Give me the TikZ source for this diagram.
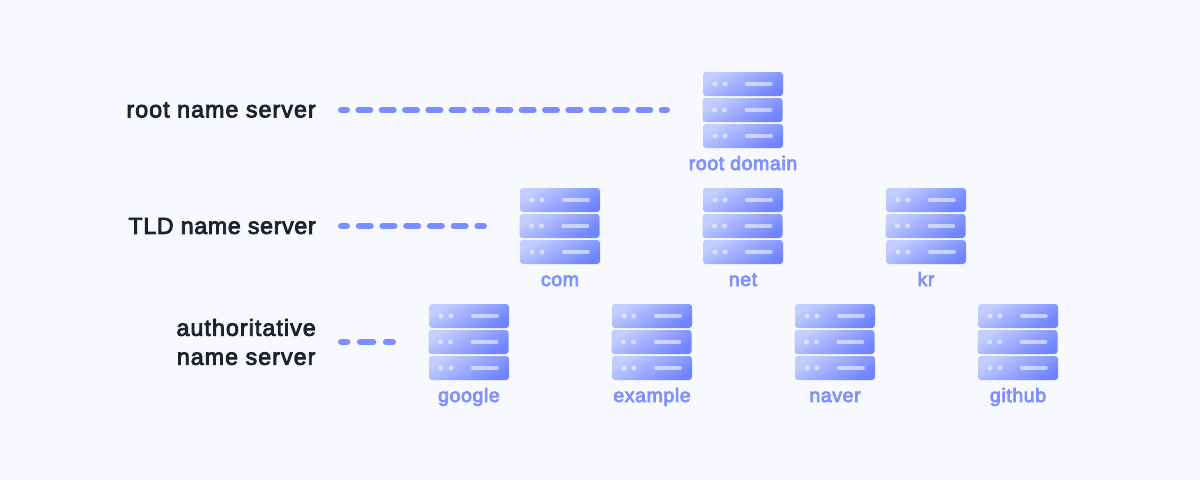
\documentclass[tikz,border=0pt]{standalone}
\usepackage{fontspec}
\setmainfont{Liberation Sans}
\newfontfamily\lblfont[FakeBold=3.5,LetterSpace=4.6]{Liberation Sans}
\newfontfamily\tldfont[FakeBold=3.5,LetterSpace=2.9]{Liberation Sans}
\newfontfamily\srvfont[FakeBold=4,LetterSpace=3.2]{Liberation Sans}
\definecolor{bgc}{HTML}{F8F9FE}
\definecolor{dashc}{HTML}{7A8EFF}
\definecolor{lblc}{HTML}{7F92FB}
\definecolor{inkc}{HTML}{1E2230}
\definecolor{gradA}{HTML}{C3CEFF}
\definecolor{gradB}{HTML}{7084FF}
\tikzset{
  levellabel/.style={text=inkc,font=\lblfont\fontsize{17.4}{21.75}\selectfont,align=center,inner sep=0pt},
  tldlabel/.style={levellabel,font=\tldfont\fontsize{17.4}{21.75}\selectfont},
  srvlabel/.style={text=lblc,font=\srvfont\fontsize{14.6}{16}\selectfont,inner sep=0pt,anchor=base},
  levelline/.style={line width=4.5pt,color=dashc,line cap=round},
  rackbox/.style={rounded corners=2.2pt,left color=gradA,right color=gradB,shading angle=32},
  rackdot/.style={fill=white,fill opacity=0.5,draw=none},
  rackbar/.style={line width=3.6pt,color=white,opacity=0.55,line cap=round},
}
\newcommand{\rackunit}[2]{%
  \shade[rackbox] (#1,#2) rectangle ++(80,24);
  \fill[rackdot] (#1+12,#2+12) circle[radius=2.6];
  \fill[rackdot] (#1+22,#2+12) circle[radius=2.6];
  \draw[rackbar] (#1+44.3,#2+12) -- ++(23.2,0);
}
\newcommand{\serverstack}[5]{% name, x (left), y (top), label, baseline
  \rackunit{#2}{#3}
  \rackunit{#2-0.5}{#3+26}
  \rackunit{#2}{#3+52}
  \node[srvlabel] (#1) at (#2+40,#5) {#4};
}
\begin{document}
\begin{tikzpicture}[x=0.75pt,y=-0.75pt]
\useasboundingbox (0,0) rectangle (1200,480);
\fill[bgc] (0,0) rectangle (1200,480);
\serverstack{root}{703}{72}{root domain}{170}
\serverstack{com}{520}{188}{com}{286}
\serverstack{net}{703}{188}{net}{286}
\serverstack{kr}{886}{188}{kr}{286}
\serverstack{google}{429}{304}{google}{402}
\serverstack{example}{612}{304}{example}{402}
\serverstack{naver}{795}{304}{naver}{402}
\serverstack{github}{978}{304}{github}{402}
\node[levellabel,anchor=east] (l1) at (316,110) {root name server};
\node[tldlabel,anchor=east] (l2) at (316,226) {TLD name server};
\node[levellabel,anchor=east] (l3) at (316,342) {authoritative\\name server};
\coordinate (e1) at (667,110);
\coordinate (e2) at (484,226);
\coordinate (e3) at (393,342);
\draw[levelline,dash pattern=on 9pt off 8.5pt,dash phase=4.5pt] ([xshift=18.75pt]l1.east) -- (e1);
\draw[levelline,dash pattern=on 9pt off 8.8pt,dash phase=4.5pt] ([xshift=18.75pt]l2.east) -- (e2);
\draw[levelline,dash pattern=on 10pt off 9.5pt,dash phase=5.3pt] ([xshift=18.75pt]l3.east) -- (e3);
\end{tikzpicture}
\end{document}
